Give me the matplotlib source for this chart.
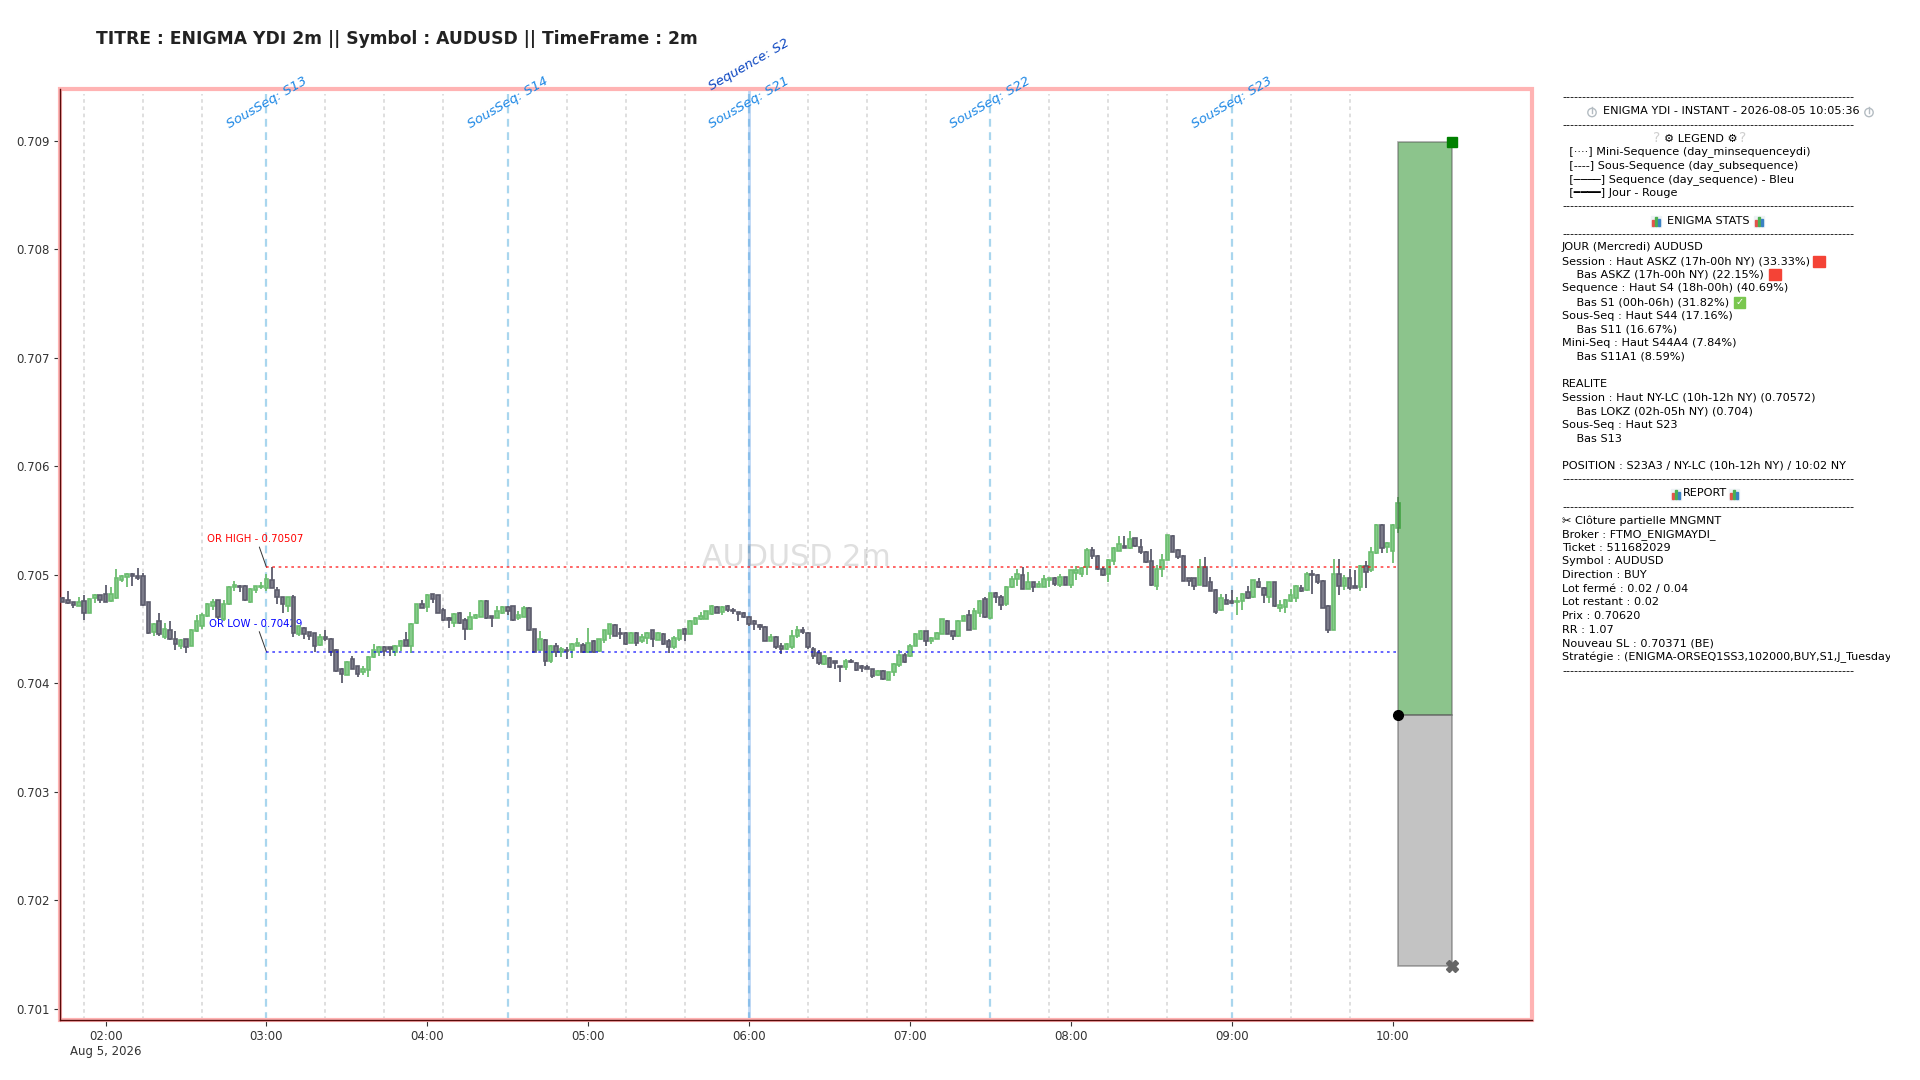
import pandas as pd
import numpy as np
import matplotlib
matplotlib.use('Agg')
import matplotlib.pyplot as plt
import matplotlib.dates as mdates
from matplotlib.patches import Rectangle, Circle
from matplotlib.transforms import Bbox

# prix en points au dessus de 0.70000
opens = [479,477,475,471,476,465,479,481,482,476,
479,495,498,501,499,499,475,447,457,443,
449,441,434,441,434,448,453,462,471,477,
459,473,489,490,490,475,486,489,488,495,
486,480,471,480,445,451,447,446,435,443,
441,431,413,408,422,416,410,412,424,429,
433,433,429,434,440,434,456,473,470,482,
481,468,460,456,465,458,450,460,461,476,
462,460,465,470,471,460,
461,469,450,431,440,421,434,429,431,431,
434,435,429,439,430,440,445,454,446,446,
437,446,439,442,449,440,445,439,433,441,
450,445,455,459,459,464,470,466,471,468,
466,465,461,457,454,452,439,443,434,432,
433,444,449,446,432,428,418,423,421,416,
415,421,419,416,415,413,408,411,403,410,
417,426,425,434,441,448,439,441,445,457,
448,444,457,463,450,465,478,460,483,480,
473,489,496,500,487,493,489,489,495,497,
491,498,491,502,501,507,523,517,505,501,
513,522,527,525,534,526,521,513,490,505,
514,536,523,517,497,497,491,507,493,486,
468,477,476,475,476,484,480,493,488,480,
493,469,470,476,479,488,486,501,500,494,
471,449,501,490,497,490,489,508,504,520,
546,526,522,543]
closes = [475,474,472,475,465,478,481,477,475,482,
497,499,501,499,497,472,446,455,445,450,
441,436,440,433,449,457,463,473,475,461,
473,489,491,489,477,487,490,490,496,488,
480,473,480,446,453,445,444,434,443,441,
429,411,409,420,413,409,413,424,431,433,
430,432,434,439,434,455,473,469,481,478,
465,458,458,464,456,450,461,463,476,460,
460,467,470,467,458,463,
469,449,429,441,421,434,429,432,430,436,
437,429,437,429,441,449,455,444,445,436,
446,437,443,446,441,446,436,433,442,449,
445,457,460,462,467,471,465,470,468,467,
464,461,455,455,452,439,443,433,432,436,
444,449,447,433,425,419,425,415,419,415,
421,420,412,414,413,407,411,404,410,418,
426,420,434,445,448,439,442,446,459,445,
444,457,462,449,467,476,461,483,480,472,
489,496,501,487,493,489,492,496,497,492,
498,491,504,504,506,523,517,505,500,514,
525,528,525,533,527,521,512,491,505,514,
537,521,516,494,494,490,507,490,485,466,
479,473,474,476,482,479,495,489,481,493,
471,472,477,481,490,485,501,500,493,469,
449,501,490,497,488,488,508,503,521,546,
525,529,546,566]
highs = [480,485,475,480,481,479,482,481,491,489,
505,500,502,502,506,502,475,456,465,456,
457,448,441,441,450,463,465,474,478,477,
477,490,494,491,491,488,490,493,501,507,
489,480,480,481,453,452,447,446,445,449,
442,432,414,421,425,416,416,425,436,434,
434,433,435,440,447,456,473,477,482,482,
481,469,461,465,466,460,466,464,477,477,
462,471,471,471,471,467,
471,470,450,448,441,435,437,433,433,437,
442,437,451,440,441,449,455,455,451,447,
447,447,445,447,449,447,446,441,444,449,
451,458,461,466,467,472,471,471,472,469,
466,466,462,458,455,453,445,444,437,437,
449,453,452,447,433,431,426,424,421,416,
422,422,420,417,417,413,412,412,410,419,
431,428,436,446,449,448,443,447,459,458,
448,458,463,468,469,477,480,483,484,481,
490,499,505,507,503,493,494,500,497,498,
501,498,504,508,507,525,526,518,507,515,
526,536,536,540,534,533,522,524,509,519,
537,537,524,518,497,497,515,516,498,487,
482,482,486,480,483,490,495,497,489,493,
493,477,478,487,491,491,503,504,501,495,
472,515,515,500,505,504,509,513,526,547,
547,530,547,572]
lows = [475,473,469,471,458,465,474,474,475,475,
478,493,489,490,495,471,445,444,444,441,
440,431,432,428,434,447,450,461,468,459,
457,472,485,484,476,474,483,487,485,488,
473,465,466,443,444,441,440,429,434,439,
425,410,400,408,413,406,408,406,423,425,
425,425,425,430,434,428,455,469,466,474,
465,457,451,452,455,440,449,459,461,459,
452,460,464,463,457,458,
461,448,429,430,416,419,424,424,422,423,
434,428,428,428,429,437,441,444,441,435,
437,434,437,436,433,440,435,428,432,439,
439,445,454,458,459,463,465,463,466,464,
457,460,453,449,449,439,439,432,427,431,
432,442,445,432,422,417,417,414,413,401,
412,419,411,410,413,405,407,403,403,407,
415,419,424,434,440,434,436,441,445,445,
440,443,457,449,450,461,460,459,474,468,
471,488,490,487,487,484,489,489,489,490,
489,491,488,495,498,500,515,504,499,493,
509,522,525,524,526,519,511,490,486,498,
514,521,515,494,490,486,491,490,485,464,
467,473,473,463,468,478,479,488,474,474,
470,466,465,475,475,484,485,482,492,469,
446,449,481,486,486,488,485,488,503,519,
520,520,511,539]

day = '2026-08-05 '
mini_times = ['01:52','02:14','02:36','03:22','03:44','04:06','04:52','05:14','05:36',
              '06:22','06:44','07:06','07:52','08:14','08:36','09:22','09:44']
sous_times = ['03:00','04:30','06:00','07:30','09:00']
sous_names = ['S13','S14','S21','S22','S23']
hour_ticks = ['02:00','03:00','04:00','05:00','06:00','07:00','08:00','09:00','10:00']
price_ticks = [0.701,0.702,0.703,0.704,0.705,0.706,0.707,0.708,0.709]

or_high = 0.70507
or_low = 0.70429
or_start = '03:00'
entry_time = '10:02'
tp_time = '10:22'
entry_price = 0.70371
tp_price = 0.70899
sl_price = 0.70139

dashes = '-' * 73
panel_lines = [
    dashes, '', dashes, '',
    '  [····] Mini-Sequence (day_minsequenceydi)',
    '  [----] Sous-Sequence (day_subsequence)',
    '  [────] Sequence (day_sequence) - Bleu',
    '  [━━━━] Jour - Rouge',
    dashes, '', dashes,
    'JOUR (Mercredi) AUDUSD',
    'Session : Haut ASKZ (17h-00h NY) (33.33%)',
    '    Bas ASKZ (17h-00h NY) (22.15%)',
    'Sequence : Haut S4 (18h-00h) (40.69%)',
    '    Bas S1 (00h-06h) (31.82%)',
    'Sous-Seq : Haut S44 (17.16%)',
    '    Bas S11 (16.67%)',
    'Mini-Seq : Haut S44A4 (7.84%)',
    '    Bas S11A1 (8.59%)',
    '',
    'REALITE',
    'Session : Haut NY-LC (10h-12h NY) (0.70572)',
    '    Bas LOKZ (02h-05h NY) (0.704)',
    'Sous-Seq : Haut S23',
    '    Bas S13',
    '',
    'POSITION : S23A3 / NY-LC (10h-12h NY) / 10:02 NY',
    dashes, '', dashes,
    '✂ Clôture partielle MNGMNT',
    'Broker : FTMO_ENIGMAYDI_',
    'Ticket : 511682029',
    'Symbol : AUDUSD',
    'Direction : BUY',
    'Lot fermé : 0.02 / 0.04',
    'Lot restant : 0.02',
    'Prix : 0.70620',
    'RR : 1.07',
    'Nouveau SL : 0.70371 (BE)',
    'Stratégie : (ENIGMA-ORSEQ1SS3,102000,BUY,S1,J_Tuesday,LONG)',
    dashes,
]


def t(hhmm):
    return mdates.date2num(pd.Timestamp(day + hhmm))


def draw_candles(ax):
    x = mdates.date2num(pd.date_range(day + '01:44', periods=len(opens), freq='2min'))
    o = 0.7 + np.array(opens) * 1e-5
    c = 0.7 + np.array(closes) * 1e-5
    h = 0.7 + np.array(highs) * 1e-5
    l = 0.7 + np.array(lows) * 1e-5
    up = c >= o
    w = 1.3 / 1440
    for mask, edge, fill in [(up, '#6cbd70', '#86cb8b'), (~up, '#5c5c6c', '#7c7c8a')]:
        ax.vlines(x[mask], l[mask], h[mask], color=edge, lw=1.3, zorder=3)
        ax.bar(x[mask], (c - o)[mask], bottom=o[mask], width=w, color=fill,
               edgecolor=edge, linewidth=1.2, zorder=4)


def chart_icon(p, x, y):
    p.add_patch(Rectangle((x, y - 5), 10, 11, color='#eef2f5', zorder=1))
    for dx, hh, col in [(1, 6, '#e5534b'), (4, 9, '#4caf50'), (7, 7, '#3b82c4')]:
        p.add_patch(Rectangle((x + dx, y + 5 - hh), 2.2, hh, color=col, zorder=2))


def watch_icon(p, x, y):
    p.add_patch(Circle((x, y + 1), 4.2, fill=False, ec='#b4bcc2', lw=1))
    p.plot([x, x], [y - 5, y + 1], color='#b4bcc2', lw=1)


def draw_panel(fig):
    fs = 8.13
    p = fig.add_axes([0, 0, 1, 1], zorder=5)
    p.set_xlim(0, 1920)
    p.set_ylim(1080, 0)
    p.axis('off')
    for i, line in enumerate(panel_lines):
        if line:
            tx = p.text(1562, 97.3 + 13.65 * i, line, fontsize=fs, va='center', color='black')
            if line.startswith('Strat'):
                # coupe a droite comme sur la figure d'origine
                tx.set_fontsize(8.05)
                tx.set_clip_on(True)
                tx.set_clip_box(Bbox([[1550, 0], [1890, 1080]]))
    p.text(1603, 111.5, 'ENIGMA YDI - INSTANT - 2026-08-05 10:05:36', fontsize=fs, va='center')
    watch_icon(p, 1592, 111.5)
    watch_icon(p, 1869, 111.5)
    p.text(1664, 138.5, '⚙ LEGEND ⚙', fontsize=fs, va='center')
    p.text(1657, 138.5, '?', fontsize=10, va='center', ha='center', color='#cfcfcf')
    p.text(1743, 138.5, '?', fontsize=10, va='center', ha='center', color='#cfcfcf')
    p.text(1667, 220.5, 'ENIGMA STATS', fontsize=fs, va='center')
    chart_icon(p, 1651, 220.5)
    chart_icon(p, 1754, 220.5)
    p.text(1683, 493.5, 'REPORT', fontsize=fs, va='center')
    chart_icon(p, 1671, 493.5)
    chart_icon(p, 1729, 493.5)
    p.add_patch(Rectangle((1813, 256), 12, 11, color='#f44336'))
    p.add_patch(Rectangle((1769, 269), 12, 11, color='#f44336'))
    p.add_patch(Rectangle((1734, 297), 11, 11, color='#7ac74f'))
    p.text(1739.5, 302, '✓', fontsize=7, color='white', ha='center', va='center', fontweight='bold')


def main():
    fig = plt.figure(figsize=(19.2, 10.8), dpi=100)
    ax = fig.add_axes([60 / 1920, 60 / 1080, 1472 / 1920, 931 / 1080])

    for m in mini_times:
        ax.axvline(t(m), ymax=0.995, color='#dcdcdc', lw=1.3, ls=(0, (2, 2)), zorder=1)
    for s, name in zip(sous_times, sous_names):
        ax.axvline(t(s), ymax=0.995, color='#a9d6ee', lw=1.6, ls=(0, (3.5, 2.5)), zorder=1)
        ax.text(t(s), 0.985, 'SousSeq: ' + name, transform=ax.get_xaxis_transform(), rotation=30,
                ha='center', va='center', color='#1e88e5', fontsize=9.5, style='italic')
    ax.axvline(t('06:00'), color='#5b9be6', lw=2, alpha=0.4, zorder=1)
    ax.text(t('06:00'), 1.026, 'Sequence: S2', transform=ax.get_xaxis_transform(), rotation=30,
            ha='center', va='center', color='#0d47c1', fontsize=9.5, style='italic')

    draw_candles(ax)

    ax.hlines(or_high, t(or_start), t(entry_time), color='red', lw=1.2, ls=(0, (1.6, 2.2)), alpha=0.7, zorder=5)
    ax.hlines(or_low, t(or_start), t(entry_time), color='blue', lw=1.2, ls=(0, (1.6, 2.2)), alpha=0.7, zorder=5)
    ax.annotate('OR HIGH - %.5f' % or_high, xy=(t(or_start), or_high), xytext=(-11, 23),
                textcoords='offset pixels', color='red', fontsize=7.3, ha='center', va='bottom',
                arrowprops=dict(arrowstyle='-', color='#333333', lw=0.7, shrinkA=0, shrinkB=0,
                                relpos=(0.53, 0)))
    ax.annotate('OR LOW - %.5f' % or_low, xy=(t(or_start), or_low), xytext=(-11, 23),
                textcoords='offset pixels', color='blue', fontsize=7.3, ha='center', va='bottom',
                arrowprops=dict(arrowstyle='-', color='#333333', lw=0.7, shrinkA=0, shrinkB=0,
                                relpos=(0.53, 0)))

    ax.add_patch(Rectangle((t(entry_time), entry_price), t(tp_time) - t(entry_time), tp_price - entry_price,
                           facecolor='#1b8a1b', edgecolor='#555555', alpha=0.5, lw=1.2, zorder=6))
    ax.add_patch(Rectangle((t(entry_time), sl_price), t(tp_time) - t(entry_time), entry_price - sl_price,
                           facecolor='#888888', edgecolor='#555555', alpha=0.5, lw=1.2, zorder=6))
    ax.plot(t(tp_time), tp_price, marker='s', color='green', ms=7, zorder=7)
    ax.plot(t(entry_time), entry_price, marker='o', color='black', ms=7, zorder=7)
    ax.plot(t(tp_time), sl_price, marker='X', color='#666666', ms=8, zorder=7)

    ax.text(0.5, 0.497, 'AUDUSD 2m', transform=ax.transAxes, ha='center', va='center',
            fontsize=21.7, color='gray', alpha=0.25)

    ax.set_xlim(t('01:43'), t('10:52'))
    ax.set_ylim(0.700895, 0.70948)
    ax.set_yticks(price_ticks)
    ax.set_yticklabels(['%.3f' % v for v in price_ticks])
    ax.set_xticks([t(h) for h in hour_ticks])
    ax.set_xticklabels([h + '\nAug 5, 2026' if h == '02:00' else h for h in hour_ticks])
    ax.tick_params(labelsize=8.5, colors='#333333', length=4, width=0.8)

    # cadre rose du jour + axes sombres
    ax.add_patch(Rectangle((0, 0), 1, 1, transform=ax.transAxes, fill=False, edgecolor='#ffb3b3',
                           lw=3, clip_on=False, zorder=2.4))
    for side in ['top', 'right']:
        ax.spines[side].set_visible(False)
    for side in ['left', 'bottom']:
        ax.spines[side].set_color('#5a0a0a')
        ax.spines[side].set_linewidth(1)

    fig.text(96 / 1920, 1 - 39.5 / 1080, 'TITRE : ENIGMA YDI 2m || Symbol : AUDUSD || TimeFrame : 2m',
             fontsize=12.3, fontweight='bold', color='#222222', va='center')

    draw_panel(fig)
    fig.savefig('out.png', dpi=100)


if __name__ == '__main__':
    main()
